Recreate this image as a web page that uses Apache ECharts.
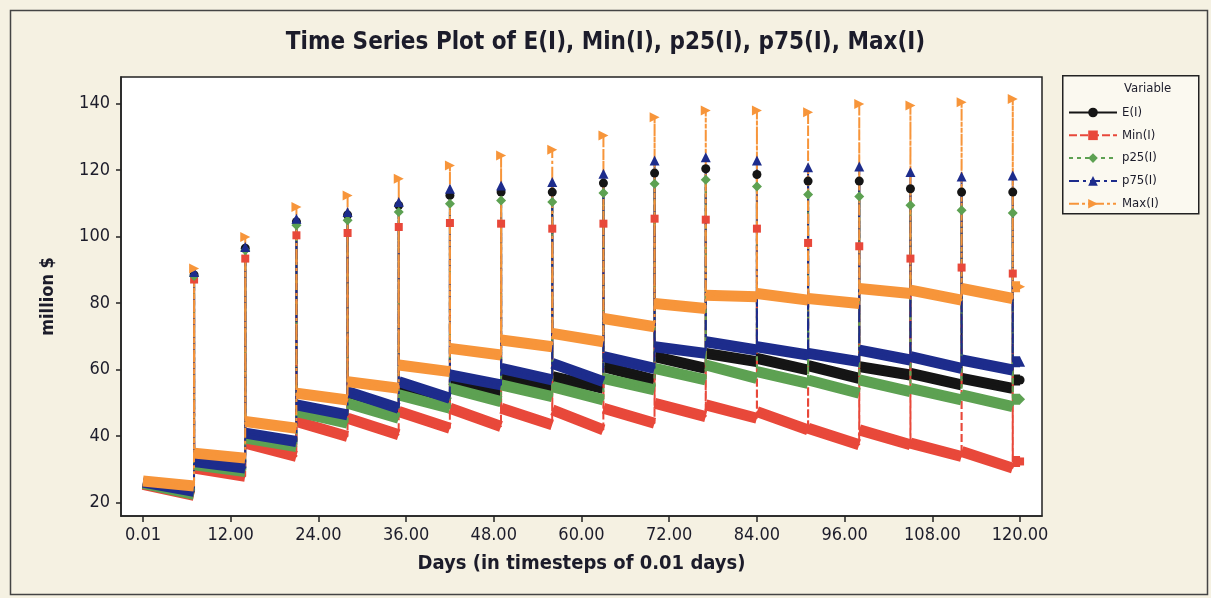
<!DOCTYPE html>
<html><head><meta charset="utf-8">
<script src="https://cdn.jsdelivr.net/npm/echarts@6/dist/echarts.min.js"></script>
<style>html,body{margin:0;padding:0;background:#f5f1e2;} #c{width:1211px;height:598px;}</style>
</head><body><div id="c"></div>
<script>
// ---- data (days, million $) ----
const seriesNames = ['E(I)', 'Min(I)', 'p25(I)', 'p75(I)', 'Max(I)'];
const weekStartDay = [0.01, 7.01, 14.01, 21.01, 28.01, 35.01, 42.01, 49.01, 56.01, 63.01, 70.01, 77.01, 84.01, 91.01, 98.01, 105.01, 112.01];
const weekEndDay   = [6.99, 13.99, 20.99, 27.99, 34.99, 41.99, 48.99, 55.99, 62.99, 69.99, 76.99, 83.99, 90.99, 97.99, 104.99, 111.99, 118.99];
const spikeDay     = [7, 14, 21, 28, 35, 42, 49, 56, 63, 70, 77, 84, 91, 98, 105, 112, 119];
const finalDay     = [119.01, 120];
const xTickValues  = [0.01, 12, 24, 36, 48, 60, 72, 84, 96, 108, 120];
const xTickLabels  = ['0.01', '12.00', '24.00', '36.00', '48.00', '60.00', '72.00', '84.00', '96.00', '108.00', '120.00'];
const yTickValues  = [20, 40, 60, 80, 100, 120, 140];

const E_start = [26.0, 32.0, 40.2, 48.3, 52.0, 55.0, 57.0, 58.4, 57.9, 60.9, 63.9, 64.9, 63.4, 61.2, 60.9, 58.9, 57.4];
const E_end   = [23.3, 30.0, 37.6, 45.2, 47.3, 50.0, 53.0, 54.9, 54.4, 56.9, 60.4, 62.4, 59.9, 57.4, 58.4, 55.4, 54.4];
const E_spike = [88.5, 96.5, 104.5, 106.5, 109.4, 112.4, 113.4, 113.4, 116.1, 119.1, 120.4, 118.7, 116.7, 116.7, 114.4, 113.4, 113.4];
const E_final = 56.9;

const Min_start = [25.5, 30.4, 37.9, 44.4, 45.4, 47.4, 48.4, 48.4, 47.9, 48.4, 49.9, 49.4, 47.4, 42.4, 41.9, 37.9, 35.4];
const Min_end   = [22.2, 27.9, 33.9, 39.9, 40.4, 42.4, 42.9, 43.4, 41.9, 43.9, 45.9, 45.4, 41.9, 37.4, 37.4, 33.9, 30.4];
const Min_spike = [87.1, 93.4, 100.4, 101.1, 102.9, 104.1, 103.9, 102.4, 103.9, 105.4, 105.1, 102.4, 98.1, 97.1, 93.4, 90.7, 88.9];
const Min_final = 32.4;

const p25_start = [25.8, 31.4, 39.4, 47.4, 49.9, 52.4, 54.4, 55.4, 54.9, 57.4, 60.4, 61.4, 59.4, 56.9, 56.9, 54.4, 52.4];
const p25_end   = [22.5, 29.4, 36.9, 43.9, 45.4, 48.4, 50.4, 51.9, 50.9, 53.9, 56.9, 57.4, 55.9, 52.9, 53.4, 50.9, 48.9];
const p25_spike = [88.2, 95.9, 103.4, 104.9, 107.4, 109.9, 110.9, 110.4, 113.1, 115.9, 117.1, 115.1, 112.7, 112.1, 109.4, 107.9, 107.1];
const p25_final = 51.1;

const p75_start = [26.2, 32.4, 40.9, 49.4, 53.4, 56.4, 58.4, 60.4, 61.9, 63.9, 66.9, 68.4, 66.9, 64.9, 65.9, 63.9, 62.9];
const p75_end   = [23.4, 30.4, 38.4, 46.4, 48.4, 51.4, 55.4, 56.9, 56.4, 60.4, 64.9, 65.9, 64.4, 62.4, 62.9, 60.4, 59.9];
const p75_spike = [89.4, 96.9, 105.4, 107.4, 110.4, 114.4, 115.4, 116.4, 118.9, 122.9, 123.9, 122.9, 120.9, 121.1, 119.4, 118.1, 118.4];
const p75_final = 62.4;

const Max_start = [26.5, 34.9, 44.4, 52.9, 56.4, 61.4, 66.4, 68.9, 70.9, 75.4, 79.9, 82.4, 82.9, 81.4, 84.4, 83.9, 84.4];
const Max_end   = [25.0, 33.4, 42.4, 50.9, 54.4, 59.4, 64.4, 66.9, 68.4, 72.9, 78.4, 81.9, 80.9, 79.9, 82.9, 80.9, 81.4];
const Max_spike = [90.4, 99.9, 108.9, 112.4, 117.4, 121.4, 124.4, 126.1, 130.4, 135.9, 137.9, 137.9, 137.4, 139.9, 139.4, 140.4, 141.4];
const Max_final = 84.9;

// ---- styling ----
const variables = [
  {name: seriesNames[0], s: E_start,   e: E_end,   p: E_spike,   f: E_final,   color: '#151515', symbol: 'circle',  size: 9,  dash: 'solid'},
  {name: seriesNames[1], s: Min_start, e: Min_end, p: Min_spike, f: Min_final, color: '#e8483a', symbol: 'rect',    size: 8,  dash: [8, 3]},
  {name: seriesNames[2], s: p25_start, e: p25_end, p: p25_spike, f: p25_final, color: '#5da152', symbol: 'diamond', size: 10, dash: [4, 4]},
  {name: seriesNames[3], s: p75_start, e: p75_end, p: p75_spike, f: p75_final, color: '#1d2c8c', symbol: 'triangle',size: 10, dash: [10, 4, 3, 4]},
  {name: seriesNames[4], s: Max_start, e: Max_end, p: Max_spike, f: Max_final, color: '#f7953a', symbol: 'path://M0,0 L10,5 L0,10 Z', size: 10, dash: [10, 3, 3, 3, 3, 3]}
];

const FONT = "'DejaVu Sans Condensed', 'DejaVu Sans', sans-serif";
const series = [];
variables.forEach(v => {
  const band = [];
  const line = [];
  for (let k = 0; k < spikeDay.length; k++) {
    band.push([weekStartDay[k], v.s[k]], [weekEndDay[k], v.e[k]], [weekEndDay[k], '-']);
    line.push({value: [weekStartDay[k], v.s[k]], symbol: 'none'});
    line.push({value: [weekEndDay[k], v.e[k]], symbol: 'none'});
    line.push({value: [spikeDay[k], v.p[k]]});
  }
  band.push([finalDay[0], v.f], [finalDay[1], v.f]);
  line.push({value: [finalDay[0], v.f], symbol: 'none'});
  line.push({value: [finalDay[1], v.f]});
  series.push({
    name: v.name + ' band', type: 'line', data: band, showSymbol: false, silent: true,
    lineStyle: {color: v.color, width: 11, cap: 'butt', join: 'miter'}, itemStyle: {color: v.color},
    emphasis: {disabled: true}, animation: false, connectNulls: false
  });
  series.push({
    name: v.name, type: 'line', data: line, symbol: v.symbol, symbolSize: v.size, showAllSymbol: true,
    lineStyle: {color: v.color, width: 2, type: v.dash}, itemStyle: {color: v.color},
    emphasis: {disabled: true}, animation: false
  });
});

const chart = echarts.init(document.getElementById('c'), null, {renderer: 'canvas'});
chart.setOption({
  backgroundColor: '#f5f1e2',
  animation: false,
  title: {
    text: 'Time Series Plot of E(I), Min(I), p25(I), p75(I), Max(I)',
    left: 'center', top: 31, padding: 0,
    textStyle: {fontFamily: FONT, fontSize: 24, fontWeight: 'bold', color: '#1c1c2a'}
  },
  legend: {
    data: seriesNames, orient: 'vertical', left: 1068, top: 106, padding: 0,
    itemWidth: 48, itemHeight: 12, itemGap: 9.8,
    textStyle: {fontFamily: FONT, fontSize: 13, lineHeight: 12, color: '#1c1c2a'},
    selectedMode: false
  },
  grid: {left: 121, right: 169, top: 77, bottom: 82, show: true, backgroundColor: '#ffffff', borderColor: '#222', borderWidth: 1.5},
  xAxis: {
    type: 'value', min: -3, max: 123,
    name: 'Days (in timesteps of 0.01 days)', nameLocation: 'middle', nameGap: 38,
    nameTextStyle: {fontFamily: FONT, fontSize: 20, fontWeight: 'bold', color: '#1c1c2a'},
    axisLine: {show: true, onZero: false, lineStyle: {color: '#222', width: 1.5}},
    axisTick: {show: true, length: 6, customValues: xTickValues, lineStyle: {color: '#222', width: 1.5}},
    axisLabel: {customValues: xTickValues, margin: 10, fontFamily: FONT, fontSize: 18, color: '#1c1c2a',
      formatter: val => { const i = xTickValues.indexOf(val); return i >= 0 ? xTickLabels[i] : ''; }},
    splitLine: {show: false}
  },
  yAxis: {
    type: 'value', min: 16, max: 148,
    name: 'million $', nameLocation: 'middle', nameGap: 64, nameRotate: 90,
    nameTextStyle: {fontFamily: FONT, fontSize: 18, fontWeight: 'bold', color: '#1c1c2a'},
    axisLine: {show: true, onZero: false, lineStyle: {color: '#222', width: 1.5}},
    axisTick: {show: true, length: 5, customValues: yTickValues, lineStyle: {color: '#222', width: 1.5}},
    axisLabel: {customValues: yTickValues, margin: 11, fontFamily: FONT, fontSize: 18, color: '#1c1c2a'},
    splitLine: {show: false}
  },
  graphic: [
    {type: 'rect', left: 8, top: 8, z: -10, shape: {width: 1197, height: 584}, style: {fill: 'none', stroke: '#444', lineWidth: 1.5}},
    {type: 'rect', left: 1062, top: 75, z: -5, shape: {width: 136, height: 138}, style: {fill: '#fbf9f0', stroke: '#222', lineWidth: 1.5}},
    {type: 'text', left: 1124, top: 82, style: {text: 'Variable', fontFamily: FONT, fontSize: 13, fill: '#1c1c2a'}}
  ],
  series: series
});
</script></body></html>
